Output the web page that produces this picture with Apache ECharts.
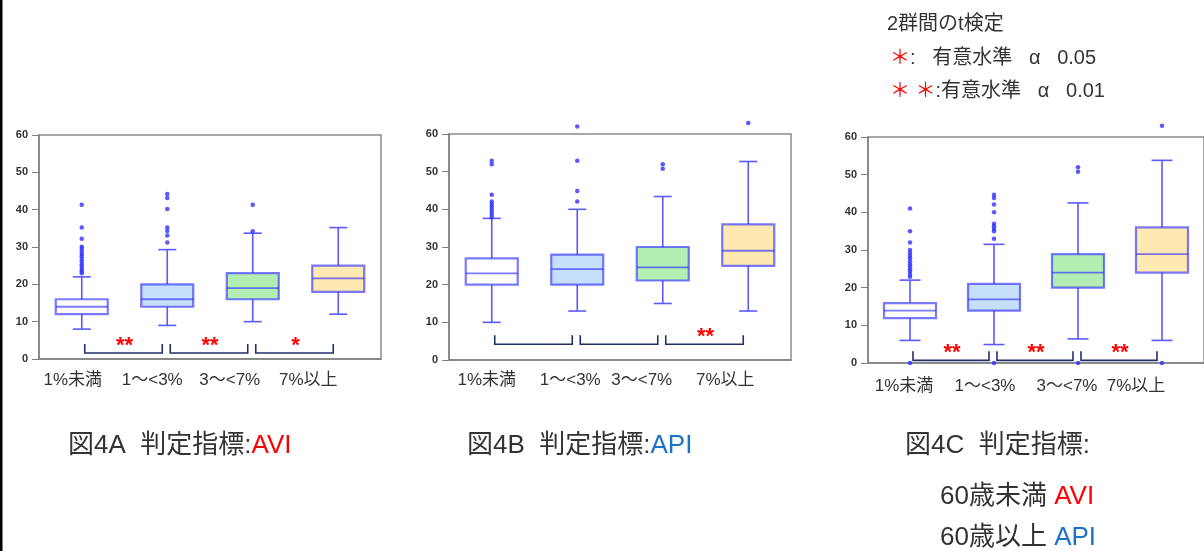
<!DOCTYPE html>
<html><head><meta charset="utf-8">
<script src="https://cdn.jsdelivr.net/npm/echarts@6/dist/echarts.min.js"></script>
<style>html,body{margin:0;padding:0;background:#fff}#c{width:1204px;height:551px}</style>
</head><body><div id="c"></div>
<script>
const categories = ['1%未満', '1〜<3%', '3〜<7%', '7%以上'];
const yMin = 0, yMax = 60, yStep = 10;
// box values per category: [low whisker, Q1, median, Q3, high whisker]
const boxA = [[8, 12, 14, 16, 22], [9, 14, 16, 20, 29.3], [10, 16, 19, 23, 33.7], [12, 18, 21.6, 25, 35.2]];
const outA = [[23, 23.5, 24.1, 24.8, 25.4, 26.1, 26.8, 27.5, 28.1, 28.8, 29.5, 30.1, 32.2, 35.2, 41.3], [31.2, 33.1, 34.3, 35.2, 40.2, 43.1, 44.2], [34.2, 41.3], []];
const boxB = [[10, 20, 23, 27, 37.6], [13, 20, 24.1, 28, 40], [15, 21.1, 24.6, 30, 43.4], [13, 25, 29, 36, 52.7]];
const outB = [[37.9, 38.7, 39.4, 40.1, 40.8, 41.4, 42.1, 43.9, 52, 52.9], [42.1, 44.9, 52.9, 62], [50.8, 52], [62.9]];
const boxC = [[6, 11.9, 13.9, 15.9, 22], [4.9, 13.9, 16.9, 21, 31.5], [6.4, 20, 24, 28.9, 42.5], [6, 24, 28.9, 36, 53.8]];
const outC = [[0, 22.9, 23.5, 24.3, 24.9, 25.6, 26.2, 27, 27.8, 28.5, 29.2, 30, 32, 35, 41], [0, 33, 35, 35.6, 36.3, 37, 40, 42.1, 43.8, 44.7], [0, 50.8, 52], [0, 63]];
// significance brackets: [from category, to category, mark]
const sigA = [[0, 1, '**'], [1, 2, '**'], [2, 3, '*']];
const sigB = [[0, 1, ''], [1, 2, ''], [2, 3, '**']];
const sigC = [[0, 1, '**'], [1, 2, '**'], [2, 3, '**']];
const bracketLevel = [1.6, 4.2, 0.7];

const fills = ['#ffffff', '#c6e0fb', '#b4eeb2', '#ffe9b3'];
const boxStroke = 'rgba(40,40,255,0.62)';
const whiskerColor = '#5a5aff';
const FONT = '"Liberation Sans", "Noto Sans CJK JP", sans-serif';

const grids = [
  { left: 39, top: 135, width: 342, height: 224, show: true, borderColor: '#8c8c8c', borderWidth: 1.5 },
  { left: 449, top: 134, width: 342, height: 226, show: true, borderColor: '#8c8c8c', borderWidth: 1.5 },
  { left: 868, top: 137, width: 344, height: 226, show: true, borderColor: '#8c8c8c', borderWidth: 1.5 }
];
const labelShift = [[18, 30, 46, 60], [10, 14, 42, 46], [12, 18, 22, 52]];
const labelMargin = [13, 12, 15];
const capW = [18, 18, 21];

function richFor(g) {
  const r = {};
  labelShift[g].forEach((p, i) => {
    r['c' + i] = { padding: [0, p, 0, 0], fontSize: 17, color: '#333', fontFamily: FONT };
  });
  return r;
}

const xAxes = grids.map((_, g) => ({
  gridIndex: g, type: 'category', data: categories, boundaryGap: true,
  axisTick: { show: false },
  axisLine: { lineStyle: { color: '#7f7f7f', width: 1.5 } },
  axisLabel: { margin: labelMargin[g], interval: 0, formatter: (v, i) => '{c' + i + '|' + v + '}', rich: richFor(g) }
}));
const yAxes = grids.map((_, g) => ({
  gridIndex: g, type: 'value', min: yMin, max: yMax, interval: yStep,
  splitLine: { show: false },
  axisLine: { show: true, lineStyle: { color: '#7f7f7f', width: 1.5 } },
  axisTick: { show: true, length: 7, lineStyle: { color: '#7f7f7f', width: 1 } },
  axisLabel: { fontSize: 11, fontWeight: 'bold', color: '#333', margin: 11, fontFamily: '"Liberation Sans", Arial, sans-serif' }
}));

function boxSeries(g, boxes) {
  return {
    type: 'custom', xAxisIndex: g, yAxisIndex: g, clip: false, z: 3,
    data: boxes.map((b, i) => [i].concat(b)),
    encode: { x: 0, y: [1, 2, 3, 4, 5] },
    renderItem: function (params, api) {
      const i = api.value(0);
      const p = k => api.coord([i, api.value(k)]);
      const x = p(1)[0];
      const yLow = p(1)[1], yQ1 = p(2)[1], yMed = p(3)[1], yQ3 = p(4)[1], yHigh = p(5)[1];
      const bw = 52, cw = capW[g];
      const ws = { stroke: whiskerColor, lineWidth: 1.6 };
      return {
        type: 'group', children: [
          { type: 'line', shape: { x1: x, y1: yHigh, x2: x, y2: yQ3 }, style: ws },
          { type: 'line', shape: { x1: x, y1: yQ1, x2: x, y2: yLow }, style: ws },
          { type: 'line', shape: { x1: x - cw / 2, y1: yHigh, x2: x + cw / 2, y2: yHigh }, style: ws },
          { type: 'line', shape: { x1: x - cw / 2, y1: yLow, x2: x + cw / 2, y2: yLow }, style: ws },
          { type: 'rect', shape: { x: x - bw / 2, y: yQ3, width: bw, height: yQ1 - yQ3 }, style: { fill: fills[i], stroke: boxStroke, lineWidth: 2.2 } },
          { type: 'line', shape: { x1: x - bw / 2, y1: yMed, x2: x + bw / 2, y2: yMed }, style: { stroke: boxStroke, lineWidth: 1.8 } }
        ]
      };
    }
  };
}
function outlierSeries(g, outs) {
  const data = [];
  outs.forEach((arr, i) => arr.forEach(v => data.push([i, v])));
  return {
    type: 'scatter', xAxisIndex: g, yAxisIndex: g, clip: false, z: 4,
    symbol: 'circle', symbolSize: 4.5, itemStyle: { color: '#2f2fff' }, data: data
  };
}
function sigSeries(g, sig) {
  return {
    type: 'custom', xAxisIndex: g, yAxisIndex: g, clip: false, z: 5,
    data: sig.map(s => [s[0], s[1]]),
    encode: { x: [0, 1] },
    renderItem: function (params, api) {
      const s = sig[params.dataIndex];
      const a = api.coord([s[0], bracketLevel[g]]);
      const b = api.coord([s[1], bracketLevel[g]]);
      const xl = a[0] + 3, xr = b[0] - 5, yb = a[1], yt = a[1] - 9;
      return {
        type: 'group', children: [
          { type: 'polyline', shape: { points: [[xl, yt], [xl, yb], [xr, yb], [xr, yt]] }, style: { stroke: '#22306a', lineWidth: 1.6, fill: 'none' } },
          { type: 'text', style: { text: s[2], x: (xl + xr) / 2 + 1, y: yt + 2, align: 'center', verticalAlign: 'middle', fill: '#ff0000', font: 'bold 22px "Liberation Sans", Arial, sans-serif' } }
        ]
      };
    }
  };
}

const series = [
  boxSeries(0, boxA), outlierSeries(0, outA), sigSeries(0, sigA),
  boxSeries(1, boxB), outlierSeries(1, outB), sigSeries(1, sigB),
  boxSeries(2, boxC), outlierSeries(2, outC), sigSeries(2, sigC)
];

const capFont = '26px ' + FONT;
const legFont = '20px ' + FONT;
const rich = {
  r: { fill: '#ff0000', color: '#ff0000', font: capFont },
  b: { fill: '#1a73c9', color: '#1a73c9', font: capFont },
  s: { fill: '#ff0000', color: '#ff0000', font: legFont }
};
function txt(x, y, text, font) {
  return { type: 'text', left: x, top: y, style: { text: text, font: font, fill: '#333', rich: rich, verticalAlign: 'top' } };
}

const chart = echarts.init(document.getElementById('c'), null, { renderer: 'canvas' });
chart.setOption({
  animation: false,
  backgroundColor: '#fff',
  grid: grids, xAxis: xAxes, yAxis: yAxes, series: series,
  graphic: [
    { type: 'rect', left: 0, top: 0, shape: { width: 2.5, height: 551 }, style: { fill: '#000' } },
    txt(68, 433, '図4A  判定指標:{r|AVI}', capFont),
    txt(467, 433, '図4B  判定指標:{b|API}', capFont),
    txt(905, 433, '図4C  判定指標:', capFont),
    txt(940, 484, '60歳未満 {r|AVI}', capFont),
    txt(940, 525, '60歳以上 {b|API}', capFont),
    txt(887, 14, '2群間のt検定', legFont),
    txt(890, 48, '{s|＊}:   有意水準   α   0.05', legFont),
    txt(890, 81, '{s|＊ ＊}:有意水準   α   0.01', legFont)
  ]
});
</script>
</body></html>
